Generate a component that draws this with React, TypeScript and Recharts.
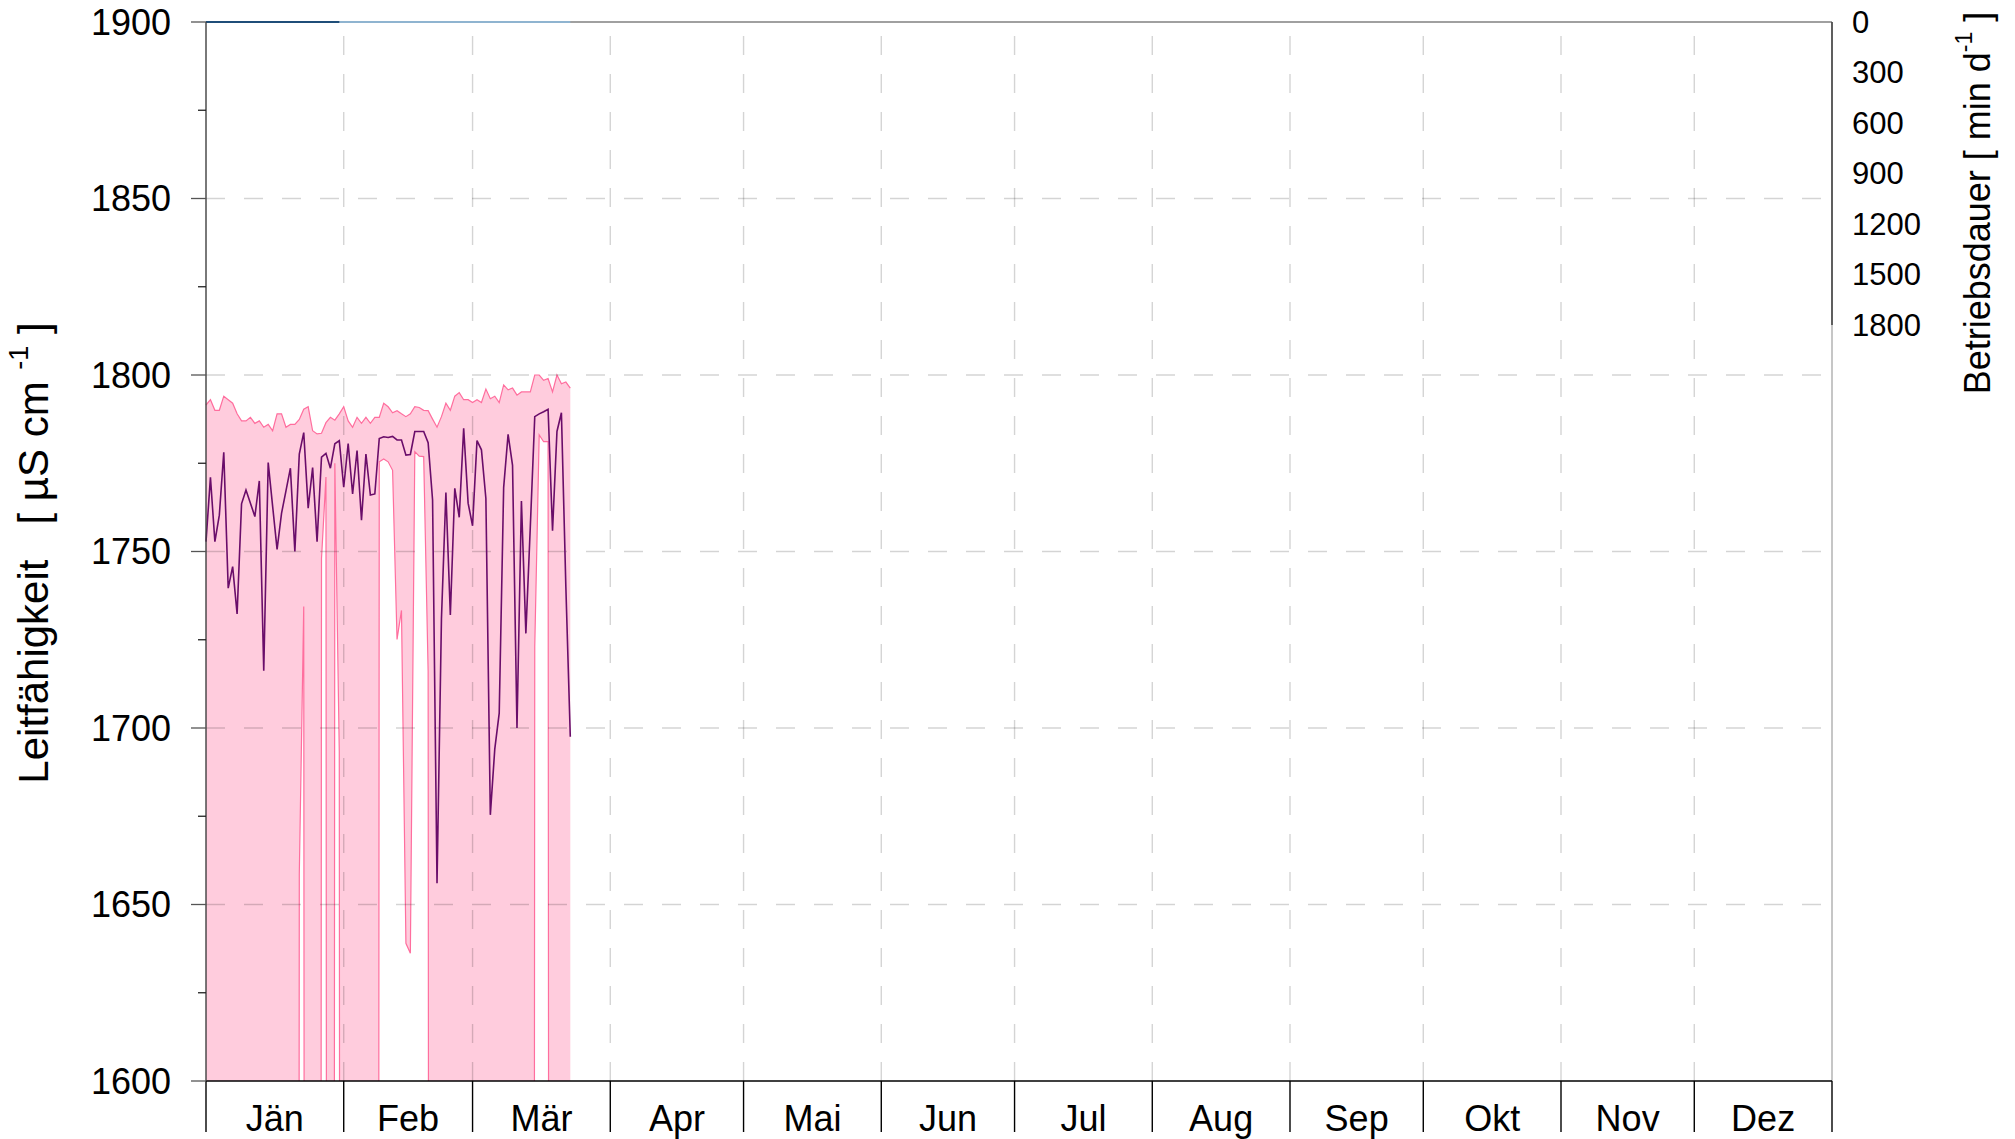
import React from "react";
import {
  ComposedChart,
  Area,
  Line,
  XAxis,
  YAxis,
  ReferenceLine,
  Label,
} from "recharts";

// ---- data (daily, day 0 = 1 Jan, leap year) ----
const dayIndex = [
  0, 1, 2, 3, 4, 5, 6, 7, 8, 9, 10, 11, 12, 13, 14, 15, 16, 17, 18, 19, 20,
  21, 22, 23, 24, 25, 26, 27, 28, 29, 30, 31, 32, 33, 34, 35, 36, 37, 38, 39,
  40, 41, 42, 43, 44, 45, 46, 47, 48, 49, 50, 51, 52, 53, 54, 55, 56, 57, 58,
  59, 60, 61, 62, 63, 64, 65, 66, 67, 68, 69, 70, 71, 72, 73, 74, 75, 76, 77,
  78, 79, 80, 81, 82,
];

const maxValues = [
  1791.5, 1793, 1790, 1790, 1794, 1793, 1792, 1789, 1787, 1787, 1788, 1786.3,
  1787, 1785.2, 1786, 1784.2, 1789, 1789, 1785.2, 1786, 1786, 1787.4, 1790.3,
  1791, 1784.2, 1783.3, 1783.5, 1786.5, 1788, 1787.2, 1789, 1791, 1787,
  1785.2, 1788, 1786.3, 1788, 1786.3, 1788, 1788, 1792, 1791, 1789.3, 1789.9,
  1789, 1788.2, 1789, 1791, 1790.8, 1790, 1789.9, 1787.5, 1785.2, 1788.2, 1792,
  1790, 1794, 1795, 1793, 1793, 1792.2, 1793, 1792.2, 1796, 1793.3, 1794,
  1792.2, 1797.2, 1795.8, 1796.3, 1794.3, 1795.2, 1795.2, 1795.2, 1800, 1800,
  1798.5, 1799, 1795.2, 1800, 1797.5, 1798, 1796.3,
];

const meanValues = [
  1752.8, 1771, 1752.8, 1760.3, 1778.1, 1739.6, 1745.7, 1732.3, 1763.5,
  1767.4, 1763.7, 1759.9, 1770, 1716.2, 1775.2, 1762.8, 1750.6, 1760.8, 1767.2,
  1773.6, 1750, 1777.6, 1783.7, 1762.3, 1773.8, 1752.8, 1776.7, 1777.8, 1773.6,
  1780.5, 1781.4, 1768.2, 1780.6, 1766.3, 1778.6, 1758.9, 1777.6, 1766, 1766.3,
  1782, 1782.5, 1782.3, 1782.6, 1781.6, 1781.6, 1777.3, 1777.5, 1784, 1784,
  1784, 1780.8, 1764.6, 1656, 1731, 1766.7, 1732, 1767.9, 1759.7, 1784.9,
  1763.7, 1757.3, 1781.4, 1778.8, 1765, 1675.4, 1694, 1704.2, 1768.1, 1783.2,
  1774.4, 1700, 1764.3, 1726.8, 1757, 1788.2, 1789, 1789.6, 1790.3, 1755.9,
  1784, 1789.3, 1740, 1697.5,
];

// 0 = daily minimum far below the axis (off chart)
const minValues = [
  0, 0, 0, 0, 0, 0, 0, 0, 0, 0, 0, 0, 0, 0, 0, 0, 0, 0, 0, 0, 0, 1658.5,
  1734.4, 0, 0, 0, 1748, 1771.1, 0, 1775, 1693.3, 0, 0, 0, 0, 0, 0, 0, 0,
  1775.4, 1776.2, 1775.4, 1773, 1725.1, 1733.3, 1639, 1636.2, 1778.3, 1777,
  1776.9, 1716, 0, 0, 0, 0, 0, 0, 0, 0, 0, 0, 0, 0, 0, 0, 0, 0, 0, 0, 0, 0, 0,
  0, 0, 1723, 1783, 1781.1, 1781.1, 0, 0, 0, 0, 0,
];

// Betriebsdauer [min/d]: first segment (days 0-30), second segment (days 30-82)
const betriebA = [
  0, 0, 0, 0, 0, 0, 0, 0, 0, 0, 0, 0, 0, 0, 0, 0, 0, 0, 0, 0, 0, 0, 0, 0, 0,
  0, 0, 0, 0, 0, 0,
];
const betriebB = [
  0, 0, 0, 0, 0, 0, 0, 0, 0, 0, 0, 0, 0, 0, 0, 0, 0, 0, 0, 0, 0, 0, 0, 0, 0,
  0, 0, 0, 0, 0, 0, 0, 0, 0, 0, 0, 0, 0, 0, 0, 0, 0, 0, 0, 0, 0, 0, 0, 0, 0,
  0, 0, 0,
];

const monthLabels = ["Jän", "Feb", "Mär", "Apr", "Mai", "Jun", "Jul", "Aug", "Sep", "Okt", "Nov", "Dez"];
const monthStarts = [0, 31, 60, 91, 121, 152, 182, 213, 244, 274, 305, 335, 366];
const leftTicks = [1600, 1625, 1650, 1675, 1700, 1725, 1750, 1775, 1800, 1825, 1850, 1875, 1900];
const leftGrid = [1650, 1700, 1750, 1800, 1850];
const rightTicks = [0, 300, 600, 900, 1200, 1500, 1800];

const rows = dayIndex.map((d, i) => ({
  d,
  max: maxValues[i],
  mean: meanValues[i],
  min: minValues[i],
  bA: i < betriebA.length ? betriebA[i] : null,
  bB: i >= 30 && i - 30 < betriebB.length ? betriebB[i - 30] : null,
}));

const FONT = "'Liberation Sans', Arial, sans-serif";
const W = 2015;
const H = 1139;
const LEFT_W = 206;
const RIGHT_W = 183;
const X_H = 58;
const TOP = 22;
const PLOT_LEFT = LEFT_W;
const PLOT_W = W - LEFT_W - RIGHT_W;
const AXIS_Y = H - X_H;
const GRID = "rgba(0,0,0,0.17)";

const LeftTick = (props: any) => {
  const { y, payload } = props;
  const v = payload.value;
  const major = v % 50 === 0;
  return (
    <g>
      <line
        x1={PLOT_LEFT - (major ? 15 : 8)}
        x2={PLOT_LEFT}
        y1={y}
        y2={y}
        stroke={major ? "#555" : "#222"}
        strokeWidth={1.3}
      />
      {major && (
        <text
          x={PLOT_LEFT - 35}
          y={y}
          textAnchor="end"
          dominantBaseline="central"
          fontSize={36}
          fontFamily={FONT}
          fill="#000"
        >
          {v}
        </text>
      )}
    </g>
  );
};

const RightTick = (props: any) => {
  const { y, payload } = props;
  return (
    <text
      x={PLOT_LEFT + PLOT_W + 20}
      y={y}
      textAnchor="start"
      dominantBaseline="central"
      fontSize={31}
      fontFamily={FONT}
      fill="#000"
    >
      {payload.value}
    </text>
  );
};

const XTick = (props: any) => {
  const { x, payload, index } = props;
  const v = payload.value;
  const i = monthStarts.indexOf(v);
  const pxPerDay = PLOT_W / 366;
  const next = i >= 0 && i < monthStarts.length - 1 ? monthStarts[i + 1] : null;
  return (
    <g key={index}>
      <line x1={x} x2={x} y1={AXIS_Y} y2={AXIS_Y + 51} stroke="#000" strokeWidth={1.4} />
      {next !== null && (
        <text
          x={x + ((next - v) * pxPerDay) / 2}
          y={AXIS_Y + 37}
          textAnchor="middle"
          dominantBaseline="central"
          fontSize={36}
          fontFamily={FONT}
          fill="#000"
        >
          {monthLabels[i]}
        </text>
      )}
    </g>
  );
};

const LeftTitle = () => (
  <text
    transform="translate(33, 553) rotate(-90)"
    textAnchor="middle"
    dominantBaseline="central"
    fontSize={42}
    fontFamily={FONT}
    fill="#000"
    style={{ whiteSpace: "pre" }}
  >
    <tspan>{"Leitfähigkeit   [ µS cm "}</tspan>
    <tspan fontSize={27} dy={-14}>-1</tspan>
    <tspan dy={14}>{" ]"}</tspan>
  </text>
);

const RightTitle = () => (
  <text
    transform="translate(1977, 203) rotate(-90)"
    textAnchor="middle"
    dominantBaseline="central"
    fontSize={36}
    fontFamily={FONT}
    fill="#000"
    style={{ whiteSpace: "pre" }}
  >
    <tspan>{"Betriebsdauer [ min d"}</tspan>
    <tspan fontSize={23} dy={-13}>-1</tspan>
    <tspan dy={13}>{" ]"}</tspan>
  </text>
);

export default function App() {
  return (
    <div style={{ position: "absolute", left: 0, top: 0, width: W, height: H, background: "#fff" }}>
      <ComposedChart
        width={W}
        height={H}
        data={rows}
        margin={{ top: TOP, right: 0, bottom: 0, left: 0 }}
      >
        <XAxis
          xAxisId="x"
          dataKey="d"
          type="number"
          domain={[0, 366]}
          ticks={monthStarts}
          interval={0}
          height={X_H}
          axisLine={{ stroke: "#000", strokeWidth: 1.4 }}
          tickLine={false}
          tick={<XTick />}
        />
        <YAxis
          yAxisId="left"
          orientation="left"
          width={LEFT_W}
          domain={[1600, 1900]}
          allowDataOverflow
          ticks={leftTicks}
          interval={0}
          axisLine={{ stroke: "#404040", strokeWidth: 1.4 }}
          tickLine={false}
          tick={<LeftTick />}
        >
          <Label content={<LeftTitle />} />
        </YAxis>
        <YAxis
          yAxisId="right"
          orientation="right"
          width={RIGHT_W}
          reversed
          domain={[0, 6291]}
          ticks={rightTicks}
          interval={0}
          axisLine={false}
          tickLine={false}
          tick={<RightTick />}
        >
          <Label content={<RightTitle />} />
        </YAxis>
        {leftGrid.map((v) => (
          <ReferenceLine
            key={"h" + v}
            xAxisId="x"
            yAxisId="left"
            y={v}
            stroke={GRID}
            strokeWidth={1.4}
            strokeDasharray="19 19"
          />
        ))}
        {monthStarts.slice(1, 12).map((v) => (
          <ReferenceLine
            key={"v" + v}
            xAxisId="x"
            yAxisId="left"
            x={v}
            stroke={GRID}
            strokeWidth={1.4}
            strokeDasharray="19 19"
          />
        ))}
        <Area
          xAxisId="x"
          yAxisId="left"
          type="linear"
          dataKey={(r: any) => [r.min, r.max]}
          fill="#ff4986"
          fillOpacity={0.28}
          stroke="#ff6e9e"
          strokeWidth={1.2}
          dot={false}
          activeDot={false}
          isAnimationActive={false}
        />
        <Line
          xAxisId="x"
          yAxisId="left"
          type="linear"
          dataKey="mean"
          stroke="#6a0d6a"
          strokeWidth={1.6}
          dot={false}
          activeDot={false}
          isAnimationActive={false}
        />
        <ReferenceLine xAxisId="x" yAxisId="left" y={1900} stroke="#808080" strokeWidth={1.4} />
        <ReferenceLine xAxisId="x" yAxisId="left" x={366} stroke="#a0a0a0" strokeWidth={1.2} />
        <ReferenceLine
          xAxisId="x"
          yAxisId="right"
          segment={[{ x: 366, y: 0 }, { x: 366, y: 1800 }]}
          stroke="#333"
          strokeWidth={1.4}
        />
        <Line
          xAxisId="x"
          yAxisId="right"
          type="linear"
          dataKey="bB"
          stroke="#8fb4d0"
          strokeWidth={2}
          dot={false}
          activeDot={false}
          connectNulls={false}
          isAnimationActive={false}
        />
        <Line
          xAxisId="x"
          yAxisId="right"
          type="linear"
          dataKey="bA"
          stroke="#1f4e79"
          strokeWidth={2.2}
          dot={false}
          activeDot={false}
          connectNulls={false}
          isAnimationActive={false}
        />
      </ComposedChart>
    </div>
  );
}
